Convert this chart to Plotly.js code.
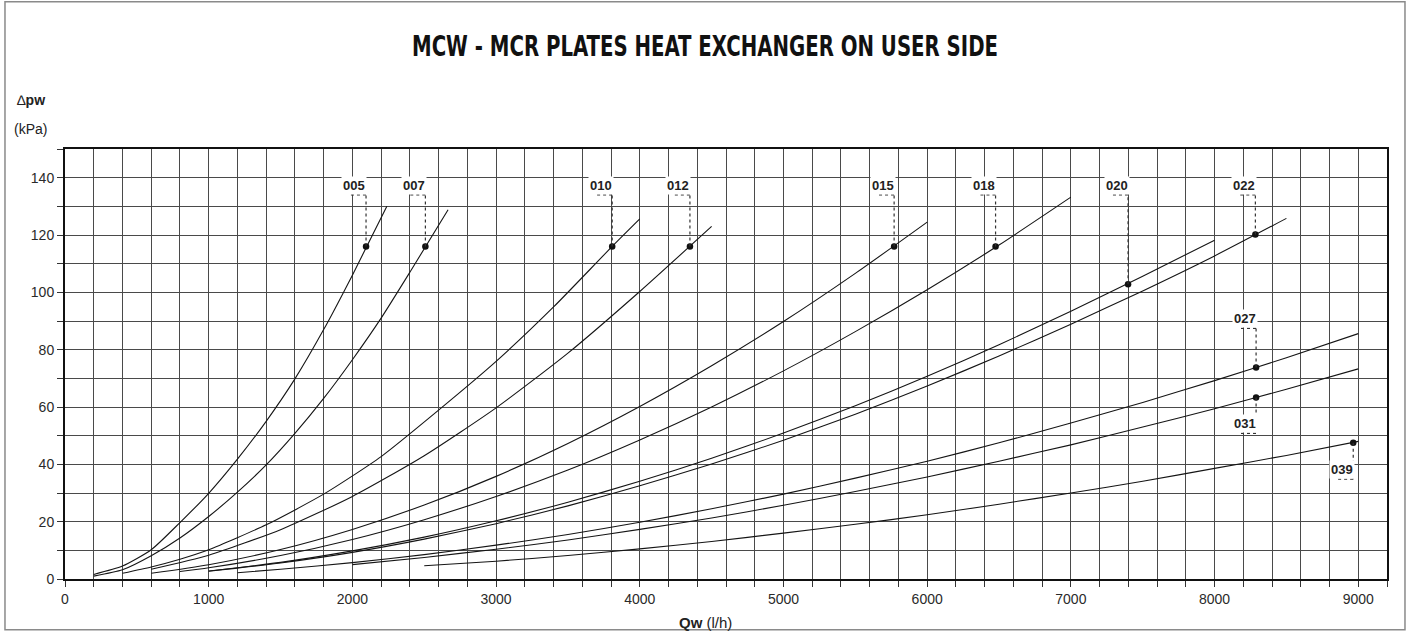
<!DOCTYPE html>
<html>
<head>
<meta charset="utf-8">
<script src="https://cdn.plot.ly/plotly-3.0.1.min.js"></script>
<style>
  html, body { margin: 0; padding: 0; background: #ffffff; }
  #chart { width: 1410px; height: 632px; }
</style>
</head>
<body>
<div id="chart"></div>
<script>
// ---------------- DATA ----------------
const seriesNames = ["005", "007", "010", "012", "015", "018", "020", "022", "027", "031", "039"];

const q005 = [200, 400, 600, 800, 1000, 1200, 1400, 1600, 1800, 2000, 2240];
const dp005 = [1.6, 4.5, 10.2, 19.7, 29.9, 41.8, 55.0, 69.8, 87.0, 106.0, 130.0];

const q007 = [200, 400, 600, 800, 1000, 1200, 1400, 1600, 1800, 2000, 2200, 2400, 2666];
const dp007 = [1.0, 3.2, 8.1, 14.3, 21.8, 30.3, 39.8, 50.8, 63.0, 76.5, 91.0, 107.0, 128.8];

const q010 = [400, 600, 800, 1000, 1400, 1800, 2200, 2600, 3000, 3400, 3800, 4000];
const dp010 = [2.0, 4.2, 6.9, 10.2, 18.9, 29.6, 42.7, 58.9, 75.9, 94.9, 115.6, 125.6];

const q012 = [600, 1000, 1500, 2000, 2500, 3000, 3500, 4000, 4500];
const dp012 = [3.4, 8.3, 17.2, 28.8, 43.0, 59.7, 78.8, 100.3, 123.0];

const q015 = [600, 1000, 1500, 2000, 2500, 3000, 3500, 4000, 4500, 5000, 5500, 6000];
const dp015 = [2.0, 5.0, 10.3, 17.3, 25.8, 35.8, 47.3, 60.2, 74.4, 89.8, 106.6, 124.5];

const q018 = [800, 1000, 1500, 2000, 2500, 3000, 3500, 4000, 4500, 5000, 5500, 6000, 6500, 7000];
const dp018 = [2.6, 3.9, 8.2, 13.8, 20.7, 28.8, 38.0, 48.5, 60.0, 72.6, 86.3, 100.9, 116.5, 133.2];

const q020 = [1000, 1500, 2000, 2500, 3000, 3500, 4000, 4500, 5000, 5500, 6000, 6500, 7000, 7500, 8000];
const dp020 = [2.8, 5.8, 9.8, 14.6, 20.3, 26.8, 34.1, 42.1, 50.9, 60.4, 70.7, 81.7, 93.4, 105.6, 118.2];

const q022 = [1000, 1500, 2000, 2500, 3000, 3500, 4000, 4500, 5000, 5500, 6000, 6500, 7000, 7500, 8000, 8500];
const dp022 = [2.7, 5.6, 9.3, 13.9, 19.3, 25.5, 32.5, 40.1, 48.4, 57.5, 67.3, 77.8, 88.9, 100.5, 112.7, 125.8];

const q027 = [1200, 1500, 2000, 2500, 3000, 3500, 4000, 4500, 5000, 5500, 6000, 6500, 7000, 7500, 8000, 8500, 9000];
const dp027 = [2.2, 3.4, 5.7, 8.5, 11.8, 15.5, 19.8, 24.5, 29.6, 35.2, 41.1, 47.5, 54.4, 61.6, 69.2, 77.2, 85.6];

const q031 = [2000, 2500, 3000, 3500, 4000, 4500, 5000, 5500, 6000, 6500, 7000, 7500, 8000, 8500, 9000];
const dp031 = [5.0, 7.5, 10.4, 13.6, 17.3, 21.3, 25.7, 30.5, 35.6, 41.1, 46.8, 53.0, 59.4, 66.2, 73.3];

const q039 = [2500, 3000, 3500, 4000, 4500, 5000, 5500, 6000, 6500, 7000, 7500, 8000, 8500, 9000];
const dp039 = [4.6, 6.2, 8.2, 10.5, 13.1, 16.0, 19.1, 22.4, 26.1, 30.0, 34.1, 38.6, 43.1, 48.0];

// marked points (black dots) on each curve
const markQ  = [2095, 2508, 3808, 4349, 5770, 6476, 7398, 8284, 8289, 8289, 8965];
const markDp = [116, 116, 116, 116, 116, 116, 102.8, 120.2, 73.8, 63.3, 47.5];

// axis ticks
const xTickVals = [0,200,400,600,800,1000,1200,1400,1600,1800,2000,2200,2400,2600,2800,3000,3200,3400,3600,3800,4000,4200,4400,4600,4800,5000,5200,5400,5600,5800,6000,6200,6400,6600,6800,7000,7200,7400,7600,7800,8000,8200,8400,8600,8800,9000,9200];
const xTickLabels = ["0","","","","","1000","","","","","2000","","","","","3000","","","","","4000","","","","","5000","","","","","6000","","","","","7000","","","","","8000","","","","","9000",""];
const yTickVals = [0,10,20,30,40,50,60,70,80,90,100,110,120,130,140,150];
const yTickLabels = ["0","","20","","40","","60","","80","","100","","120","","140",""];

// ---------------- LAYOUT CONFIG (label leader levels, in kPa) ----------------
const leaderLevel = [134, 134, 134, 134, 134, 134, 134, 134, 87.4, 50.8, 34.8];
const leaderLen = 105; // horizontal part of the dotted leader, in l/h

// ---------------- BUILD ----------------
const allQ = [q005, q007, q010, q012, q015, q018, q020, q022, q027, q031, q039];
const allDp = [dp005, dp007, dp010, dp012, dp015, dp018, dp020, dp022, dp027, dp031, dp039];

const traces = allQ.map((q, i) => ({
  type: "scatter", mode: "lines", x: q, y: allDp[i], name: seriesNames[i],
  line: { color: "#151515", width: 1.1, shape: "spline", smoothing: 0.6 },
  hoverinfo: "x+y+name"
}));
traces.push({
  type: "scatter", mode: "markers", x: markQ, y: markDp, name: "points",
  marker: { color: "#111", size: 6.5 }, hoverinfo: "x+y"
});

const shapes = [];
const annotations = [];
const labelFont = { family: "Liberation Sans, Arial, sans-serif", size: 13, color: "#222" };
seriesNames.forEach((nm, i) => {
  const lv = leaderLevel[i];
  shapes.push({ type: "line", xref: "x", yref: "y", x0: markQ[i], x1: markQ[i], y0: markDp[i], y1: lv,
    line: { color: "#333", width: 1.2, dash: "dot" } });
  shapes.push({ type: "line", xref: "x", yref: "y", x0: markQ[i] - leaderLen, x1: markQ[i], y0: lv, y1: lv,
    line: { color: "#333", width: 1.2, dash: "dot" } });
  annotations.push({ x: markQ[i] + 10, y: lv, xref: "x", yref: "y", xanchor: "right", yanchor: "bottom",
    text: "<b>" + nm + "</b>", showarrow: false, font: labelFont, bgcolor: "#ffffff", borderpad: 1 });
});

// outer frame
shapes.push({ type: "rect", xref: "paper", yref: "paper", x0: -0.0454, x1: 1.0136, y0: -0.118, y1: 1.3426,
  line: { color: "#8a8a8a", width: 1.5 }, fillcolor: "rgba(0,0,0,0)", layer: "below" });

// axis titles
annotations.push({ xref: "paper", yref: "paper", x: -0.026, y: 1.114, xanchor: "center", yanchor: "middle",
  text: "∆<b>pw</b>", showarrow: false, font: { family: "Liberation Sans, Arial, sans-serif", size: 14, color: "#222" } });
annotations.push({ xref: "paper", yref: "paper", x: -0.026, y: 1.047, xanchor: "center", yanchor: "middle",
  text: "(kPa)", showarrow: false, font: { family: "Liberation Sans, Arial, sans-serif", size: 14, color: "#222" } });
annotations.push({ xref: "paper", yref: "paper", x: 0.4845, y: -0.100, xanchor: "center", yanchor: "middle",
  text: "<b>Qw</b> (l/h)", showarrow: false, font: { family: "Liberation Sans, Arial, sans-serif", size: 15, color: "#222" } });

const tickFont = { family: "Liberation Sans, Arial, sans-serif", size: 14, color: "#2a2a2a" };
const layout = {
  width: 1410, height: 632,
  margin: { l: 65, r: 23, t: 149, b: 53, pad: 0 },
  paper_bgcolor: "#ffffff", plot_bgcolor: "#ffffff",
  showlegend: false,
  title: {
    text: "MCW - MCR PLATES HEAT EXCHANGER ON USER SIDE",
    font: { family: "DejaVu Sans Condensed, Liberation Sans Narrow, Arial Narrow, sans-serif", size: 28, weight: "bold", color: "#111" },
    x: 0.5, xref: "container", xanchor: "center", y: 0.927, yref: "container", yanchor: "middle"
  },
  xaxis: {
    range: [0, 9200], tickmode: "array", tickvals: xTickVals, ticktext: xTickLabels,
    showgrid: true, gridcolor: "#4a4a4a", gridwidth: 1, zeroline: false,
    showline: true, linecolor: "#111", linewidth: 2, mirror: true,
    ticks: "outside", ticklen: 6, tickcolor: "#333", tickwidth: 1, tickfont: tickFont, fixedrange: true
  },
  yaxis: {
    range: [0, 150], tickmode: "array", tickvals: yTickVals, ticktext: yTickLabels,
    showgrid: true, gridcolor: "#4a4a4a", gridwidth: 1, zeroline: false,
    showline: true, linecolor: "#111", linewidth: 2, mirror: true,
    ticks: "outside", ticklen: 6, tickcolor: "#333", tickwidth: 1, tickfont: tickFont, fixedrange: true
  },
  shapes: shapes,
  annotations: annotations
};

Plotly.newPlot("chart", traces, layout, { displayModeBar: false, staticPlot: true }).then(function () {
  // squeeze the title to the condensed width of the original heading
  const t = document.querySelector("#chart .gtitle");
  if (t) {
    t.setAttribute("textLength", "586");
    t.setAttribute("lengthAdjust", "spacingAndGlyphs");
  }
});
</script>
</body>
</html>
